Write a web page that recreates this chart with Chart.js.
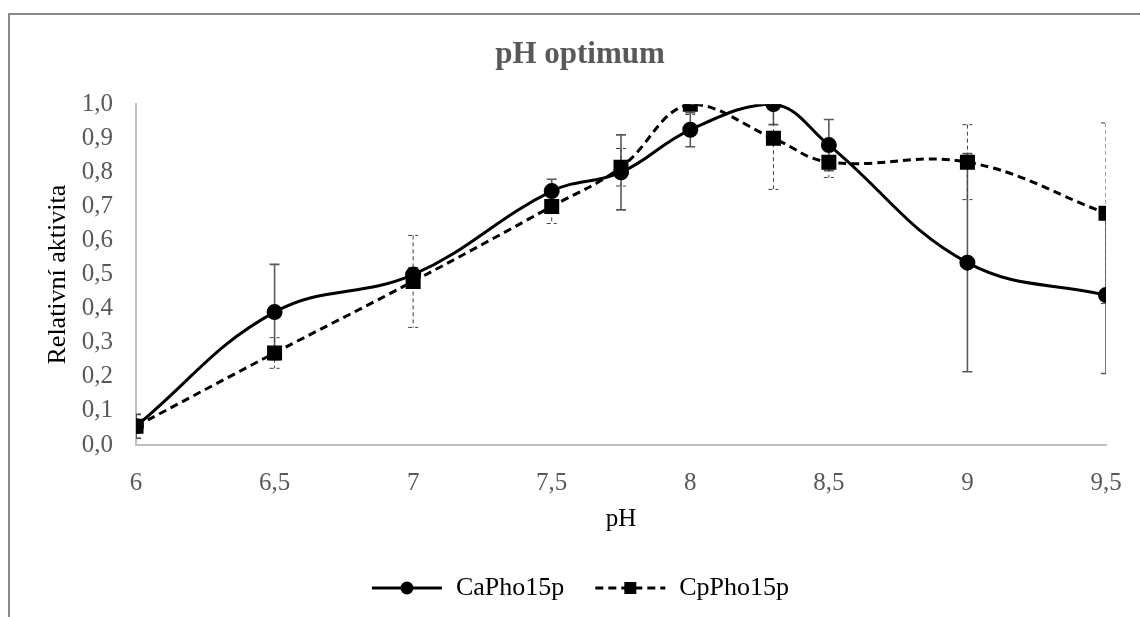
<!DOCTYPE html>
<html lang="cs">
<head>
    <meta charset="UTF-8"/>
    <title>pH optimum</title>
    <script src="https://cdn.jsdelivr.net/npm/chart.js"></script>
    <style>
        html, body {
            margin: 0;
            background: #ffffff;
            overflow: hidden;
        }

        #wrap {
            position: relative;
            width: 1160px;
            height: 617px;
        }
    </style>
</head>
<body>
<div id="wrap">
    <canvas id="phChart"></canvas>
</div>

<script>
    // data
    const phValues = [6, 6.5, 7, 7.5, 7.75, 8, 8.3, 8.5, 9, 9.5];
    const caPho = [0.055, 0.39, 0.50, 0.745, 0.80, 0.925, 1.0, 0.88, 0.535, 0.44];
    const caErr = [0.035, 0.14, 0.02, 0.035, 0.11, 0.05, 0.06, 0.075, 0.32, 0.23];
    const cpPho = [0.055, 0.27, 0.48, 0.70, 0.815, 1.0, 0.90, 0.83, 0.83, 0.68];
    const cpErr = [0.035, 0.045, 0.135, 0.05, 0.055, 0.03, 0.15, 0.045, 0.11, 0.265];
    const seriesNames = ['CaPho15p', 'CpPho15p'];

    const serif = '"Liberation Serif", "Times New Roman", serif';
    Chart.defaults.font.family = serif;

    function toPoints(ys) {
        return phValues.map((x, i) => ({x: x, y: ys[i]}));
    }

    // little line + marker picture for the legend
    function legendIcon(dashed, marker) {
        const c = document.createElement('canvas');
        c.width = 72;
        c.height = 20;
        const g = c.getContext('2d');
        g.strokeStyle = '#000';
        g.lineWidth = 3;
        if (dashed) g.setLineDash([8, 5]);
        g.beginPath();
        g.moveTo(1, 10);
        g.lineTo(71, 10);
        g.stroke();
        g.setLineDash([]);
        g.fillStyle = '#000';
        if (marker === 'circle') {
            g.beginPath();
            g.arc(36, 10, 6.5, 0, Math.PI * 2);
            g.fill();
        } else {
            g.fillRect(30, 4, 12, 12);
        }
        return c;
    }

    const errorBars = {
        id: 'errorBars',
        beforeDatasetsDraw(chart) {
            const {ctx, chartArea, scales} = chart;
            ctx.save();
            ctx.beginPath();
            ctx.rect(chartArea.left, chartArea.top, chartArea.width, chartArea.height);
            ctx.clip();
            chart.data.datasets.forEach(ds => {
                ctx.strokeStyle = ds.errorColor;
                ctx.lineWidth = ds.errorWidth;
                ctx.setLineDash(ds.errorDash);
                ds.data.forEach((p, i) => {
                    const e = ds.errors[i];
                    const px = scales.x.getPixelForValue(p.x);
                    const top = scales.y.getPixelForValue(p.y + e);
                    const bot = scales.y.getPixelForValue(p.y - e);
                    ctx.beginPath();
                    ctx.moveTo(px, top);
                    ctx.lineTo(px, bot);
                    ctx.moveTo(px - 5, top);
                    ctx.lineTo(px + 5, top);
                    ctx.moveTo(px - 5, bot);
                    ctx.lineTo(px + 5, bot);
                    ctx.stroke();
                });
            });
            ctx.restore();
        }
    };

    const frame = {
        id: 'frame',
        beforeDraw(chart) {
            const ctx = chart.ctx;
            ctx.save();
            ctx.strokeStyle = '#8c8c8c';
            ctx.lineWidth = 2;
            ctx.beginPath();
            ctx.moveTo(9, chart.height);
            ctx.lineTo(9, 14);
            ctx.lineTo(chart.width, 14);
            ctx.stroke();
            ctx.restore();
        }
    };

    new Chart(document.getElementById('phChart'), {
        type: 'scatter',
        data: {
            datasets: [{
                label: seriesNames[0],
                data: toPoints(caPho),
                errors: caErr,
                errorColor: '#595959',
                errorWidth: 1.6,
                errorDash: [],
                showLine: true,
                borderColor: '#000',
                backgroundColor: '#000',
                borderWidth: 3,
                tension: 0.4,
                pointStyle: 'circle',
                pointRadius: 6.5,
                pointHoverRadius: 6.5
            }, {
                label: seriesNames[1],
                data: toPoints(cpPho),
                errors: cpErr,
                errorColor: '#404040',
                errorWidth: 1,
                errorDash: [4, 3],
                showLine: true,
                borderColor: '#000',
                backgroundColor: '#000',
                borderWidth: 3,
                borderDash: [8, 5],
                tension: 0.4,
                pointStyle: 'rect',
                pointRadius: 8.5,
                pointHoverRadius: 8.5
            }]
        },
        options: {
            responsive: true,
            maintainAspectRatio: false,
            animation: false,
            layout: {padding: {left: 0, right: 0, top: 14, bottom: 6}},
            plugins: {
                title: {
                    display: true,
                    text: 'pH optimum',
                    color: '#595959',
                    font: {size: 31, weight: 'bold', family: serif},
                    padding: {top: 22, bottom: 31}
                },
                legend: {
                    position: 'bottom',
                    labels: {
                        color: '#000',
                        font: {size: 26, family: serif},
                        usePointStyle: true,
                        pointStyleWidth: 72,
                        padding: 30,
                        generateLabels: () => [
                            {text: seriesNames[0], pointStyle: legendIcon(false, 'circle'), datasetIndex: 0, fontColor: '#000'},
                            {text: seriesNames[1], pointStyle: legendIcon(true, 'rect'), datasetIndex: 1, fontColor: '#000'}
                        ]
                    }
                },
                tooltip: {enabled: false}
            },
            scales: {
                x: {
                    type: 'linear',
                    min: 6,
                    max: 9.5,
                    afterFit: s => { s.height = 100; },
                    grid: {display: false, drawTicks: false},
                    border: {display: true, color: '#c0c0c0', width: 2},
                    ticks: {
                        stepSize: 0.5,
                        padding: 23,
                        color: '#595959',
                        font: {size: 25},
                        callback: v => String(v).replace('.', ',')
                    },
                    title: {
                        display: true,
                        text: 'pH',
                        color: '#000',
                        font: {size: 25},
                        padding: {top: 0, bottom: 11}
                    }
                },
                y: {
                    min: 0,
                    max: 1,
                    afterFit: s => { s.width = 136; },
                    grid: {display: false, drawTicks: false},
                    border: {display: true, color: '#c0c0c0', width: 2},
                    ticks: {
                        stepSize: 0.1,
                        padding: 23,
                        color: '#595959',
                        font: {size: 25},
                        callback: v => v.toFixed(1).replace('.', ',')
                    },
                    title: {
                        display: true,
                        text: 'Relativní aktivita',
                        color: '#000',
                        font: {size: 26},
                        padding: {top: 43, bottom: 0}
                    }
                },
                // empty right-hand space holder so the plot ends where the original does
                spacer: {
                    type: 'linear',
                    position: 'right',
                    display: true,
                    afterFit: s => { s.width = 54; },
                    grid: {display: false, drawTicks: false},
                    border: {display: false},
                    ticks: {display: false}
                }
            }
        },
        plugins: [errorBars, frame]
    });
</script>
</body>
</html>
